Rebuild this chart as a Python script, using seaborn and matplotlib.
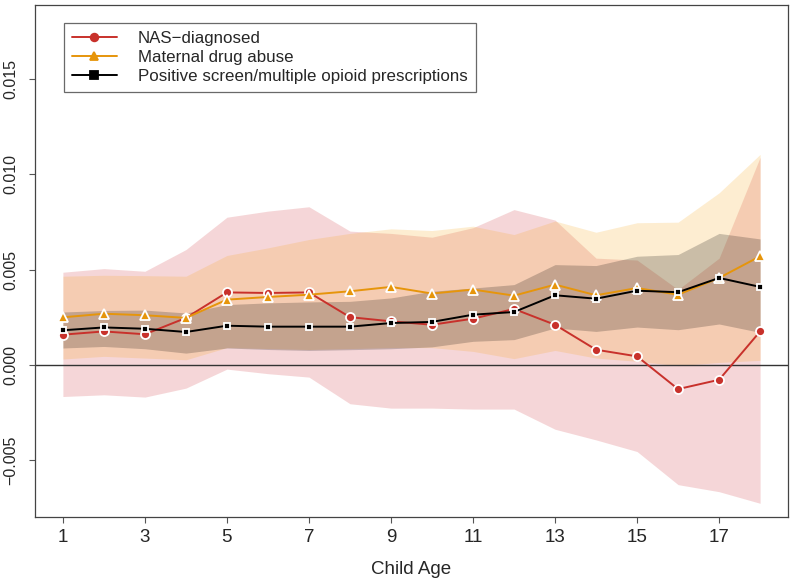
import numpy as np
import pandas as pd
import seaborn as sns
import matplotlib.pyplot as plt

sns.set_style("ticks")
plt.rcParams["font.family"] = ["Liberation Sans", "DejaVu Sans"]

# ages and estimates (x 1e-3)
ages = list(range(1, 19))

nas_est = [1.58, 1.75, 1.60, 2.46, 3.80, 3.77, 3.80, 2.50, 2.28, 2.10, 2.42, 2.93, 2.10, 0.79, 0.44, -1.28, -0.79, 1.75]
nas_lo = [-1.67, -1.58, -1.70, -1.23, -0.23, -0.47, -0.65, -2.05, -2.28, -2.28, -2.33, -2.33, -3.39, -3.95, -4.56, -6.30, -6.67, -7.28]
nas_hi = [4.86, 5.05, 4.91, 6.05, 7.75, 8.07, 8.30, 7.02, 6.90, 6.70, 7.20, 8.15, 7.60, 5.60, 5.50, 3.95, 5.60, 10.90]

mat_est = [2.49, 2.68, 2.60, 2.46, 3.42, 3.56, 3.68, 3.86, 4.09, 3.74, 3.95, 3.63, 4.21, 3.65, 4.03, 3.68, 4.56, 5.70]
mat_lo = [0.30, 0.44, 0.35, 0.26, 0.90, 0.85, 0.80, 0.85, 0.90, 0.90, 0.70, 0.32, 0.75, 0.35, 0.18, -0.05, 0.12, 0.23]
mat_hi = [4.65, 4.70, 4.68, 4.65, 5.74, 6.14, 6.58, 6.90, 7.14, 7.05, 7.28, 6.84, 7.55, 6.96, 7.46, 7.49, 9.03, 11.05]

pos_est = [1.81, 1.96, 1.89, 1.72, 2.05, 2.00, 2.00, 2.00, 2.19, 2.25, 2.63, 2.77, 3.65, 3.47, 3.89, 3.81, 4.56, 4.09]
pos_lo = [0.88, 0.96, 0.84, 0.61, 0.88, 0.80, 0.75, 0.79, 0.84, 0.94, 1.23, 1.32, 1.93, 1.75, 1.98, 1.84, 2.14, 1.70]
pos_hi = [2.77, 2.85, 2.87, 2.72, 3.16, 3.25, 3.30, 3.33, 3.51, 3.86, 4.03, 4.21, 5.26, 5.21, 5.70, 5.79, 6.90, 6.61]

series = [
    ("NAS\u2212diagnosed", nas_est, nas_lo, nas_hi, "#C8312B", "#D0363C", "o", 6.5),
    ("Maternal drug abuse", mat_est, mat_lo, mat_hi, "#E6950B", "#F7A81B", "^", 6.5),
    ("Positive screen/multiple opioid prescriptions", pos_est, pos_lo, pos_hi, "black", "black", "s", 5),
]

fig = plt.figure(figsize=(7.92, 5.84), dpi=100)
ax = fig.add_axes([35 / 792, 67 / 584, 753 / 792, 512 / 584])

for name, est, lo, hi, col, fcol, mk, ms in series:
    ax.fill_between(ages, np.array(lo) / 1000, np.array(hi) / 1000,
                    color=fcol, alpha=0.2, linewidth=0)

ax.axhline(0, color="#333333", lw=1.0, zorder=1)

for name, est, lo, hi, col, fcol, mk, ms in series:
    df = pd.DataFrame({"age": ages, "est": np.array(est) / 1000})
    sns.lineplot(data=df, x="age", y="est", ax=ax, color=col, marker=mk,
                 markersize=ms, markeredgecolor="white", markeredgewidth=1.3,
                 lw=1.4, label=name, zorder=3)

ax.set_xlim(0.32, 18.68)
ax.set_ylim(-0.0080, 0.0189)
ax.set_xticks(range(1, 18, 2))
ax.set_yticks([-0.005, 0.0, 0.005, 0.010, 0.015])
ax.set_yticklabels(["\u22120.005", "0.000", "0.005", "0.010", "0.015"],
                   rotation=90, va="center")
ax.tick_params(axis="both", length=4.3, width=0.8, color="#555555", direction="out")
ax.tick_params(axis="y", labelsize=11.5, pad=8)
ax.tick_params(axis="x", labelsize=13.5, pad=4.5)
ax.set_xlabel("Child Age", fontsize=13.5, labelpad=11)
ax.set_ylabel("")
for s in ax.spines.values():
    s.set_color("#444444")
    s.set_linewidth(0.9)

leg = ax.legend(loc="upper left", bbox_to_anchor=(0.0385, 0.965), borderaxespad=0,
                fontsize=12.2, handlelength=2.6, handletextpad=1.25,
                labelspacing=0.22, borderpad=0.5,
                fancybox=False, frameon=True, edgecolor="#444444")
leg.get_frame().set_linewidth(0.9)
for h in leg.legend_handles:
    h.set_markeredgecolor(h.get_color())
    h.set_markersize(5.5)

fig.savefig("out.png", dpi=100)
